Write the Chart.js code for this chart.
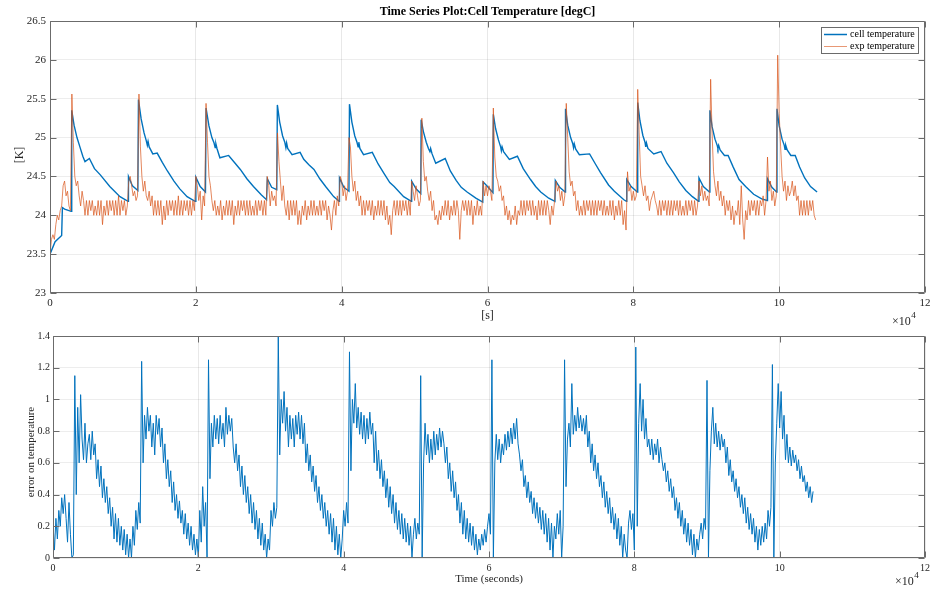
<!DOCTYPE html>
<html>
<head>
<meta charset="utf-8">
<title>Time Series Plot:Cell Temperature [degC]</title>
<script src="https://cdn.jsdelivr.net/npm/chart.js@4.4.1/dist/chart.umd.min.js"></script>
<style>
  html, body { margin: 0; padding: 0; background: #fff; overflow: hidden; }
  #wrap { position: relative; width: 930px; height: 590px; }
  canvas { position: absolute; left: 0; }
  #topChart { top: 0; }
  #errChart { top: 320px; }
</style>
</head>
<body>
<div id="wrap">
  <canvas id="topChart" width="930" height="330"></canvas>
  <canvas id="errChart" width="930" height="270"></canvas>
</div>
<script>
// ---- data ----
var seriesNames = ['cell temperature', 'exp temperature'];
var xTicks = [0, 2, 4, 6, 8, 10, 12];          // x 10^4 s
var tempTicks = [23, 23.5, 24, 24.5, 25, 25.5, 26, 26.5];
var errTicks = [0, 0.2, 0.4, 0.6, 0.8, 1, 1.2, 1.4];

// logged signals are sampled every 200 s
var sampleStep = 200;

// simulated cell temperature (time [s], value)
var cellTime = [0,700,1600,1700,2000,2900,
  2980,3300,3700,4100,4500,4800,5400,6100,6900,8200,9600,10700,10760,11300,12050,
  12130,12500,12900,13200,13350,13450,13600,14100,14700,15400,16100,17000,17800,18800,19900,20000,20600,21320,
  21400,21800,22200,22500,22650,22750,22900,23300,24500,25300,26100,27000,27900,29000,29700,29800,30400,31100,
  31180,31500,31900,32200,32350,32450,32600,33200,34300,34800,35500,36200,37000,37800,38900,39650,39700,40300,41000,
  41070,41400,41800,42100,42250,42350,42500,43000,44200,45000,45800,46600,47200,48500,49550,49600,50200,50850,
  50900,51200,51600,51900,52100,52200,52400,52900,54200,54900,55700,56400,57200,58400,59350,59400,60000,60750,
  60800,61100,61500,61800,61900,62000,62200,63000,64100,64900,65900,66600,67300,68400,69250,69300,69900,70650,
  70700,71000,71400,71700,71800,71900,72100,72600,74000,74800,75500,76600,77400,78700,79050,79100,79700,80550,
  80600,80900,81300,81600,81700,81800,82000,82800,83800,84600,85500,86300,87200,88100,88950,89000,89600,90450,
  90500,90800,91200,91500,91600,91700,91900,92500,93000,93700,94500,95400,96500,97600,98350,98400,99000,99650,
  99700,100000,100400,100700,100800,100900,101100,101600,102200,102800,103500,104300,105200];
var cellTemp = [23.5,23.66,23.74,24.1,24.08,24.05,
  25.35,25.16,25.0,24.88,24.76,24.69,24.73,24.6,24.52,24.37,24.24,24.18,24.5,24.38,24.32,
  25.49,25.24,25.06,24.96,24.9,24.95,24.88,24.79,24.8,24.68,24.57,24.44,24.34,24.24,24.18,24.49,24.37,24.3,
  25.38,25.15,25.0,24.93,24.87,24.92,24.86,24.74,24.77,24.68,24.59,24.47,24.37,24.26,24.2,24.47,24.36,24.33,
  25.42,25.2,25.02,24.94,24.87,24.93,24.86,24.78,24.81,24.72,24.65,24.59,24.47,24.37,24.24,24.18,24.48,24.36,24.31,
  25.43,25.2,25.02,24.94,24.88,24.94,24.86,24.78,24.81,24.66,24.54,24.42,24.37,24.24,24.18,24.44,24.34,24.28,
  25.23,25.08,24.94,24.86,24.82,24.86,24.79,24.67,24.73,24.57,24.45,24.36,24.3,24.22,24.17,24.43,24.37,24.29,
  25.3,25.12,24.97,24.88,24.83,24.88,24.82,24.72,24.76,24.6,24.46,24.37,24.3,24.22,24.18,24.45,24.36,24.3,
  25.37,25.16,25.0,24.92,24.87,24.92,24.85,24.78,24.79,24.66,24.55,24.39,24.31,24.2,24.18,24.46,24.37,24.3,
  25.45,25.22,25.03,24.94,24.88,24.93,24.86,24.79,24.82,24.67,24.55,24.43,24.32,24.24,24.18,24.48,24.37,24.3,
  25.35,25.14,24.98,24.9,24.86,24.9,24.84,24.77,24.77,24.62,24.46,24.37,24.27,24.21,24.19,24.47,24.36,24.3,
  25.37,25.15,24.98,24.9,24.85,24.9,24.84,24.77,24.77,24.62,24.48,24.37,24.3];

// measured temperature, one value per sample
var expTemp = [
  23.5,23.69,23.75,23.69,23.88,24.0,23.94,24.06,24.12,24.38,24.44,24.25,24.31,24.12,24.06,25.56,24.94,24.5,24.38,24.44,24.25,24.12,24.31,24.19,24.0,
  24.19,24.0,24.19,24.06,24.19,24.0,24.12,24.0,24.19,24.0,24.19,23.88,24.12,24.0,24.19,24.0,24.19,24.06,24.19,24.0,24.19,24.0,24.25,24.0,24.19,
  24.06,24.19,24.0,24.12,24.44,24.5,24.38,24.25,24.31,24.19,24.25,25.56,24.88,24.5,24.31,24.44,24.25,24.19,24.31,24.12,24.25,24.0,24.19,24.0,24.19,
  24.0,24.19,23.88,24.12,23.94,24.19,24.0,24.19,24.06,24.19,24.0,24.19,24.0,24.25,24.0,24.19,24.0,24.19,24.06,24.19,24.0,24.19,24.0,24.19,24.06,
  24.5,24.38,24.19,24.31,23.94,24.25,24.12,25.44,24.94,24.5,24.38,24.19,24.06,24.19,24.0,24.12,24.0,24.19,23.94,24.12,24.0,24.19,24.0,24.19,24.0,
  24.19,23.88,24.12,24.0,24.19,24.0,24.19,24.06,24.19,24.0,24.19,24.0,24.19,24.0,24.12,24.0,24.19,24.0,24.19,24.06,24.19,24.0,24.19,24.0,24.5,
  24.38,24.12,24.31,24.19,24.25,24.12,25.06,24.69,24.44,24.19,24.38,24.12,24.0,24.19,23.94,24.19,24.0,24.19,24.0,24.19,23.88,24.06,23.88,24.12,24.0,
  24.19,23.94,24.12,24.0,24.19,24.0,24.19,24.0,24.12,24.0,24.19,24.0,24.19,24.06,24.19,23.94,24.12,24.0,23.81,24.06,24.19,24.0,24.25,24.12,24.5,
  24.44,24.25,24.38,24.19,24.31,25.0,24.88,24.5,24.31,24.44,24.19,24.31,24.12,24.25,24.0,24.19,24.0,24.19,24.06,24.19,24.0,24.19,23.94,24.12,24.0,
  24.19,24.0,24.19,24.0,24.19,23.94,24.12,23.88,24.0,23.75,24.06,24.19,24.0,24.19,24.0,24.19,24.0,24.19,24.06,24.19,24.0,24.19,24.0,24.44,24.31,
  24.19,24.38,24.25,24.12,24.19,25.25,24.69,24.44,24.5,24.31,24.19,24.31,24.06,24.19,23.94,24.0,23.88,24.06,23.94,24.12,24.0,24.19,24.0,24.19,23.94,
  24.12,24.0,24.19,24.0,24.19,24.06,23.69,24.06,24.19,24.06,24.19,24.0,24.19,24.0,24.19,23.88,24.12,24.0,24.19,24.0,24.12,24.0,24.44,24.25,24.38,
  24.25,24.38,24.31,24.19,25.38,24.75,24.5,24.44,24.31,24.38,24.19,24.25,24.0,24.12,23.94,24.06,23.88,24.0,23.94,24.12,23.88,24.06,24.0,24.19,24.0,
  24.19,24.0,24.19,24.06,24.19,24.0,24.19,24.0,24.12,23.94,24.19,24.0,24.19,24.0,24.19,24.0,24.19,24.06,23.88,24.12,24.0,24.19,24.44,24.31,24.38,
  24.19,24.31,24.12,24.25,25.44,25.0,24.56,24.38,24.44,24.25,24.31,24.06,24.19,24.0,24.12,24.0,24.19,24.0,24.19,24.06,24.19,24.0,24.19,24.0,24.19,
  24.0,24.19,24.06,24.19,24.0,24.19,24.0,24.12,24.0,24.19,24.0,24.19,23.94,24.12,24.0,24.19,24.0,24.19,23.88,24.06,23.81,24.56,24.31,24.38,24.19,
  24.31,24.19,24.25,25.62,25.06,24.5,24.38,24.25,24.38,24.19,24.25,24.06,24.19,24.25,24.31,24.19,24.12,24.0,24.19,24.0,24.19,24.06,24.19,24.0,24.19,
  24.0,24.19,24.0,24.19,24.06,24.19,24.0,24.19,24.0,24.12,24.0,24.19,24.0,24.19,24.06,24.19,24.0,24.19,24.0,24.12,24.44,24.25,24.38,24.19,24.31,
  24.19,24.25,24.12,25.75,25.06,24.56,24.38,24.25,24.44,24.19,24.31,24.12,24.25,24.0,24.19,24.06,24.19,23.94,24.12,23.88,24.06,24.0,24.19,23.88,24.38,
  23.94,23.69,24.06,23.94,24.19,24.0,24.19,24.06,24.19,24.0,24.19,24.0,24.19,24.12,24.25,24.0,24.19,24.75,24.31,24.44,24.19,24.31,24.12,24.25,26.06,
  25.31,24.88,24.5,24.31,24.44,24.19,24.38,24.25,24.31,24.44,24.25,24.38,24.19,24.25,24.0,24.19,24.0,24.19,24.0,24.19,24.0,24.19,24.06,24.19,24.0,23.94];

// error between simulation and measurement, one value per sample
var errTemp = [
  0.22,0.05,0.25,0.12,0.3,0.2,0.38,0.28,0.4,0.25,0.1,0.35,0.15,0.0,0.02,1.15,0.4,0.95,0.6,1.03,0.75,0.62,0.85,0.6,0.72,
  0.78,0.62,0.8,0.65,0.72,0.5,0.62,0.45,0.58,0.38,0.5,0.35,0.45,0.28,0.38,0.2,0.32,0.12,0.28,0.1,0.25,0.08,0.2,0.05,0.18,
  0.02,0.15,0.0,0.12,0.0,0.2,0.08,0.3,0.18,0.35,0.22,1.24,0.6,0.9,0.75,0.95,0.8,0.9,0.7,0.85,0.65,0.9,0.78,0.88,0.7,
  0.82,0.6,0.72,0.5,0.62,0.45,0.55,0.35,0.48,0.3,0.4,0.25,0.36,0.22,0.3,0.15,0.28,0.12,0.22,0.08,0.2,0.05,0.15,0.02,0.12,
  0.0,0.3,0.1,0.45,0.2,0.35,0.0,1.25,0.5,0.85,0.7,0.9,0.75,0.88,0.72,0.9,0.75,0.85,0.7,0.95,0.78,0.9,0.8,0.88,0.7,
  0.6,0.72,0.55,0.65,0.45,0.58,0.4,0.52,0.35,0.45,0.28,0.4,0.22,0.35,0.18,0.3,0.12,0.25,0.08,0.22,0.05,0.15,0.0,0.12,0.05,
  0.3,0.2,0.35,0.25,0.32,1.4,0.65,1.0,0.85,1.05,0.8,0.95,0.7,0.9,0.75,0.88,0.7,0.9,0.78,0.92,0.75,0.9,0.72,0.85,0.6,
  0.72,0.55,0.65,0.48,0.58,0.42,0.52,0.35,0.45,0.3,0.4,0.25,0.35,0.2,0.3,0.15,0.28,0.1,0.25,0.05,0.2,0.02,0.15,0.0,0.12,
  0.3,0.2,0.35,0.22,1.3,0.55,1.0,0.85,1.1,0.82,0.95,0.78,0.92,0.75,0.9,0.72,0.88,0.75,0.92,0.78,0.85,0.6,0.8,0.55,0.68,
  0.5,0.62,0.45,0.55,0.38,0.5,0.32,0.45,0.28,0.4,0.22,0.35,0.18,0.3,0.15,0.28,0.12,0.25,0.1,0.22,0.08,0.2,0.0,0.15,0.25,
  0.12,0.22,0.15,1.15,0.0,0.6,0.85,0.65,0.78,0.6,0.75,0.62,0.8,0.65,0.78,0.68,0.82,0.7,0.8,0.72,0.6,0.7,0.5,0.6,0.42,
  0.55,0.38,0.48,0.3,0.4,0.22,0.35,0.15,0.3,0.12,0.25,0.1,0.22,0.08,0.2,0.05,0.15,0.02,0.12,0.05,0.15,0.08,0.18,0.1,0.2,
  0.28,0.15,1.25,0.0,0.6,0.78,0.62,0.75,0.6,0.72,0.65,0.78,0.68,0.8,0.7,0.82,0.72,0.85,0.75,0.88,0.72,0.65,0.55,0.62,0.45,
  0.52,0.38,0.48,0.35,0.42,0.28,0.38,0.25,0.35,0.22,0.32,0.18,0.3,0.15,0.28,0.1,0.25,0.05,0.22,0.0,0.2,0.12,0.28,0.15,0.3,
  0.0,0.2,1.25,0.45,0.75,0.85,0.7,1.1,0.78,0.9,0.8,0.95,0.82,0.9,0.8,0.88,0.78,0.9,0.7,0.8,0.6,0.72,0.55,0.65,0.5,
  0.6,0.45,0.52,0.38,0.48,0.32,0.42,0.28,0.38,0.22,0.32,0.18,0.28,0.12,0.25,0.08,0.2,0.0,0.15,0.05,0.0,0.22,0.3,0.18,0.28,
  0.05,1.33,0.2,0.85,1.1,0.8,1.0,0.75,0.88,0.7,0.75,0.65,0.75,0.62,0.72,0.65,0.75,0.6,0.7,0.62,0.55,0.6,0.48,0.55,0.42,
  0.5,0.38,0.45,0.3,0.38,0.25,0.35,0.2,0.3,0.15,0.25,0.1,0.22,0.08,0.18,0.02,0.15,0.0,0.12,0.05,0.15,0.22,0.12,0.25,0.18,
  1.12,0.0,0.55,0.8,0.95,0.72,0.85,0.7,0.8,0.68,0.78,0.7,0.75,0.6,0.7,0.52,0.62,0.48,0.55,0.42,0.5,0.38,0.45,0.32,0.4,
  0.28,0.38,0.22,0.32,0.18,0.28,0.15,0.25,0.1,0.2,0.05,0.18,0.08,0.2,0.1,0.22,0.12,0.3,0.2,0.32,1.22,0.0,0.6,0.85,1.1,
  0.82,1.05,0.75,0.9,0.62,0.78,0.6,0.7,0.58,0.68,0.6,0.65,0.55,0.62,0.5,0.58,0.48,0.52,0.42,0.48,0.38,0.45,0.35,0.42];

// ---- helpers ----
var blue = 'rgb(0,114,189)';
var orange = 'rgb(217,83,25)';
var axisGray = '#6b6b6b';
var serif = '"Liberation Serif", "Times New Roman", serif';

Chart.defaults.font.family = serif;
Chart.defaults.color = '#262626';

function pairPoints(times, vals) {
  var pts = [];
  var n = Math.min(times.length, vals.length);
  for (var i = 0; i < n; i++) pts.push({ x: times[i], y: vals[i] });
  return pts;
}
function sampledPoints(vals) {
  return vals.map(function (v, i) { return { x: i * sampleStep, y: v }; });
}
function fmt(v) { return String(Math.round(v * 100) / 100); }

// box, inward ticks, titles, legend (MATLAB look)
const axesDecor = {
  id: 'axesDecor',
  afterDraw(chart, args, o) {
    const { ctx, chartArea: a, scales: { x, y } } = chart;
    const L = Math.round(a.left) + 0.5, R = Math.round(a.right) - 0.5;
    const T = Math.round(a.top) + 0.5, B = Math.round(a.bottom) - 0.5;
    ctx.save();
    ctx.strokeStyle = axisGray;
    ctx.lineWidth = 1;
    ctx.beginPath();
    ctx.rect(L, T, R - L, B - T);
    x.ticks.forEach(t => {
      const p = Math.round(x.getPixelForValue(t.value)) + 0.5;
      ctx.moveTo(p, B); ctx.lineTo(p, B - 6);
      ctx.moveTo(p, T); ctx.lineTo(p, T + 6);
    });
    y.ticks.forEach(t => {
      const p = Math.round(y.getPixelForValue(t.value)) + 0.5;
      ctx.moveTo(L, p); ctx.lineTo(L + 6, p);
      ctx.moveTo(R, p); ctx.lineTo(R - 6, p);
    });
    ctx.stroke();

    const cx = (a.left + a.right) / 2;
    ctx.fillStyle = '#000';
    ctx.textBaseline = 'middle';
    if (o.title) {
      ctx.font = 'bold 12px ' + serif;
      ctx.textAlign = 'center';
      ctx.fillText(o.title, cx, o.titleY);
    }
    ctx.fillStyle = '#262626';
    ctx.font = o.xTitleSize + 'px ' + serif;
    ctx.textAlign = 'center';
    ctx.fillText(o.xTitle, cx, o.xTitleY);

    ctx.save();
    ctx.translate(o.yTitleX, o.yTitleY);
    ctx.rotate(-Math.PI / 2);
    ctx.font = o.yTitleSize + 'px ' + serif;
    ctx.fillText(o.yTitle, 0, 0);
    ctx.restore();

    // x10^4 exponent
    ctx.textAlign = 'left';
    ctx.font = '12px ' + serif;
    ctx.fillText('\u00d710', o.expX, o.expY);
    const w = ctx.measureText('\u00d710').width;
    ctx.font = '9px ' + serif;
    ctx.fillText('4', o.expX + w + 0.5, o.expY - 6);

    if (o.legend) {
      const lg = o.legend;
      ctx.fillStyle = '#fff';
      ctx.fillRect(lg.x, lg.y, lg.w, lg.h);
      ctx.strokeStyle = axisGray;
      ctx.strokeRect(lg.x + 0.5, lg.y + 0.5, lg.w, lg.h);
      ctx.font = '10px ' + serif;
      ctx.fillStyle = '#000';
      lg.items.forEach((it, k) => {
        const yy = lg.y + 7.5 + k * 12;
        ctx.strokeStyle = it.color;
        ctx.lineWidth = it.width;
        ctx.beginPath();
        ctx.moveTo(lg.x + 3, yy); ctx.lineTo(lg.x + 26, yy);
        ctx.stroke();
        ctx.fillText(it.label, lg.x + 29, yy);
      });
    }
    ctx.restore();
  }
};

function xScale(height, size) {
  return {
    type: 'linear', min: 0, max: 120000,
    afterBuildTicks: s => { s.ticks = xTicks.map(v => ({ value: v * 10000 })); },
    afterFit: s => { s.height = height; s.paddingLeft = 0; s.paddingRight = 0; },
    ticks: { callback: v => fmt(v / 10000), maxRotation: 0, autoSkip: false, padding: 4, font: { size: size } },
    grid: { color: 'rgba(0,0,0,0.09)', drawTicks: false },
    border: { display: false }
  };
}
function yScale(ticksArr, width, pad, size) {
  return {
    min: ticksArr[0], max: ticksArr[ticksArr.length - 1],
    afterBuildTicks: s => { s.ticks = ticksArr.map(v => ({ value: v })); },
    afterFit: s => { s.width = width; s.paddingTop = 0; s.paddingBottom = 0; },
    ticks: { callback: v => fmt(v), padding: pad, font: { size: size } },
    grid: { color: 'rgba(0,0,0,0.07)', drawTicks: false },
    border: { display: false }
  };
}

// ---- top: cell vs exp temperature ----
new Chart(document.getElementById('topChart'), {
  type: 'line',
  data: {
    datasets: [
      { label: seriesNames[0], data: pairPoints(cellTime, cellTemp), borderColor: blue,
        borderWidth: 1.4, pointRadius: 0, order: 2 },
      { label: seriesNames[1], data: sampledPoints(expTemp), borderColor: orange,
        borderWidth: 0.7, pointRadius: 0, order: 1 }
    ]
  },
  options: {
    responsive: false,
    animation: false,
    events: [],
    layout: { padding: { left: 0, right: 5, top: 21, bottom: 0 } },
    scales: { x: xScale(37, 11), y: yScale(tempTicks, 50, 4, 11) },
    plugins: {
      legend: { display: false },
      tooltip: { enabled: false },
      axesDecor: {
        title: 'Time Series Plot:Cell Temperature [degC]', titleY: 12,
        xTitle: '[s]', xTitleY: 316, xTitleSize: 12,
        yTitle: '[K]', yTitleX: 20, yTitleY: 155, yTitleSize: 12,
        expX: 892, expY: 322,
        legend: { x: 821, y: 27, w: 97, h: 26, items: [
          { label: seriesNames[0], color: blue, width: 1.5 },
          { label: seriesNames[1], color: 'rgba(217,83,25,0.6)', width: 1 }
        ] }
      }
    }
  },
  plugins: [axesDecor]
});

// ---- bottom: error ----
new Chart(document.getElementById('errChart'), {
  type: 'line',
  data: {
    datasets: [
      { label: 'error', data: sampledPoints(errTemp), borderColor: blue,
        borderWidth: 1, pointRadius: 0 }
    ]
  },
  options: {
    responsive: false,
    animation: false,
    events: [],
    layout: { padding: { left: 0, right: 5, top: 16, bottom: 0 } },
    scales: { x: xScale(32, 10), y: yScale(errTicks, 53, 3, 10) },
    plugins: {
      legend: { display: false },
      tooltip: { enabled: false },
      axesDecor: {
        xTitle: 'Time (seconds)', xTitleY: 259, xTitleSize: 11,
        yTitle: 'error on temperature', yTitleX: 31, yTitleY: 132, yTitleSize: 11,
        expX: 895, expY: 262
      }
    }
  },
  plugins: [axesDecor]
});
</script>
</body>
</html>
